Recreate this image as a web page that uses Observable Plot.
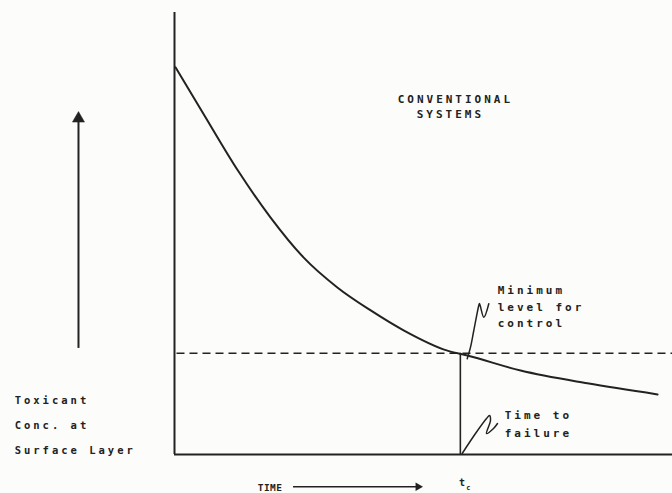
<!DOCTYPE html>
<html>
<head>
<meta charset="utf-8">
<script src="https://cdn.jsdelivr.net/npm/d3@7"></script>
<script src="https://cdn.jsdelivr.net/npm/@observablehq/plot@0.6"></script>
<style>
  html, body { margin: 0; padding: 0; background: #fcfcfa; }
  #chart svg { display: block; }
</style>
</head>
<body>
<div id="chart"></div>
<script>
// Toxicant concentration at surface layer vs time (conventional systems)
const timeValues = [0.2, 5.8, 12.7, 19.3, 25.9, 32.7, 39.4, 46.0, 54.8, 58.8, 69.5, 82.9, 97.0];
const concValues = [87.6, 77.1, 64.3, 53.6, 44.6, 37.8, 32.6, 28.1, 23.5, 22.4, 19.0, 16.1, 13.6];
const minimumLevel = 22.9;   // minimum level for control
const timeToFailure = 57.4;  // t_c

// hand-drawn leader squiggles (in data units)
const leaderMinX = [58.78, 59.44, 60.10, 61.10, 61.24, 62.11, 63.11];
const leaderMinY = [21.65, 24.28, 28.05, 33.71, 34.16, 31.06, 34.10];
const leaderFailX = [57.77, 60.44, 62.65, 63.25, 63.45, 62.65, 64.06, 64.86];
const leaderFailY = [0.23, 4.75, 8.14, 8.82, 7.69, 4.75, 5.88, 7.01];

const yLabelLines = ["Toxicant", "Conc. at", "Surface Layer"];
const systemLabelLines = ["CONVENTIONAL", "SYSTEMS"];
const minLabelLines = ["Minimum", "level for", "control"];
const failLabelLines = ["Time to", "failure"];
const xLabel = "TIME";

const curve = timeValues.map((t, i) => ({t, c: concValues[i]}));
const leaderMin = leaderMinX.map((x, i) => ({x, y: leaderMinY[i]}));
const leaderFail = leaderFailX.map((x, i) => ({x, y: leaderFailY[i]}));

const ink = "#222";
const font = "DejaVu Sans Mono";

const yLabel = yLabelLines.map((s, i) => ({s, x: -32.1, y: [12.2, 6.6, 0.9][i]}));
const sysLabel = systemLabelLines.map((s, i) => ({s, x: [56.4, 55.4][i], y: [80.3, 76.9][i]}));
const minLabel = minLabelLines.map((s, i) => ({s, x: 64.9, y: [37.1, 33.3, 29.7][i]}));
const failLabel = failLabelLines.map((s, i) => ({s, x: 66.3, y: [8.8, 4.75][i]}));

const chart = Plot.plot({
  width: 672,
  height: 493,
  marginLeft: 174,
  marginRight: 0,
  marginTop: 12,
  marginBottom: 39,
  x: {domain: [0, 100], axis: null},
  y: {domain: [0, 100], axis: null},
  style: {background: "#fcfcfa", letterSpacing: "3px"},
  marks: [
    // axes
    Plot.ruleX([0], {y1: 0, y2: 100, stroke: ink, strokeWidth: 2}),
    Plot.ruleY([0], {x1: 0, x2: 100, stroke: ink, strokeWidth: 2}),
    // minimum level dashed line
    Plot.ruleY([minimumLevel], {x1: 0.5, x2: 100, stroke: ink, strokeWidth: 1.6, strokeDasharray: "8,5"}),
    // time to failure vertical
    Plot.ruleX([timeToFailure], {y1: 0, y2: minimumLevel, stroke: ink, strokeWidth: 1.6}),
    // decay curve
    Plot.line(curve, {x: "t", y: "c", curve: "monotone-x", stroke: ink, strokeWidth: 2}),
    // leaders
    Plot.line(leaderMin, {x: "x", y: "y", curve: "catmull-rom", stroke: ink, strokeWidth: 1.5}),
    Plot.line(leaderFail, {x: "x", y: "y", curve: "catmull-rom", stroke: ink, strokeWidth: 1.5}),
    // left vertical arrow
    Plot.ruleX([-19.28], {y1: 24.0, y2: 75.5, stroke: ink, strokeWidth: 2}),
    Plot.dot([{x: -19.28, y: 76.0}], {x: "x", y: "y", symbol: "triangle", r: 4.5, fill: ink, stroke: ink, strokeWidth: 0.5}),
    // time arrow
    Plot.ruleY([-7.3], {x1: 23.9, x2: 48.6, stroke: ink, strokeWidth: 1.4}),
    Plot.dot([{x: 48.9, y: -7.3}], {x: "x", y: "y", symbol: "triangle", r: 3.2, fill: ink, rotate: 90}),
    // labels
    Plot.text(yLabel, {x: "x", y: "y", text: "s", textAnchor: "start", fill: ink, fontFamily: font, fontWeight: "bold", fontSize: 10.5}),
    Plot.text(sysLabel, {x: "x", y: "y", text: "s", textAnchor: "middle", fill: ink, fontFamily: font, fontWeight: "bold", fontSize: 11}),
    Plot.text(minLabel, {x: "x", y: "y", text: "s", textAnchor: "start", fill: ink, fontFamily: font, fontWeight: "bold", fontSize: 11}),
    Plot.text(failLabel, {x: "x", y: "y", text: "s", textAnchor: "start", fill: ink, fontFamily: font, fontWeight: "bold", fontSize: 11}),
    Plot.text([xLabel], {x: 16.7, y: -7.6, text: d => d, textAnchor: "start", fill: ink, fontFamily: font, fontWeight: "bold", fontSize: 9.5}),
    Plot.text(["t"], {x: 57.8, y: -6.3, text: d => d, fill: ink, fontFamily: font, fontWeight: "bold", fontSize: 10}),
    Plot.text(["c"], {x: 58.6, y: -7.5, text: d => d, textAnchor: "start", fill: ink, fontFamily: font, fontWeight: "bold", fontSize: 7})
  ]
});

d3.select(chart).selectAll("text")
  .filter(function() { return ["TIME", "t", "c"].includes(this.textContent); })
  .style("letter-spacing", "0.5px");
document.getElementById("chart").append(chart);
</script>
</body>
</html>
